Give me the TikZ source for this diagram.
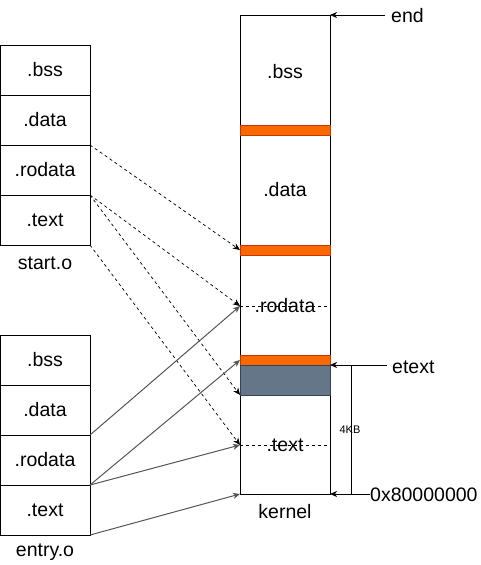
\documentclass[tikz,border=0pt]{standalone}
\usepackage{fontspec}
\setmainfont{Liberation Sans}
\usetikzlibrary{arrows.meta}
\definecolor{orng}{HTML}{FA6800}
\definecolor{orngd}{HTML}{C73500}
\definecolor{slate}{HTML}{647687}
\definecolor{slated}{HTML}{314354}
\definecolor{arrgray}{HTML}{555555}
\begin{document}
\begin{tikzpicture}[x=1pt,y=-1pt,
  font=\fontsize{19.5}{22}\selectfont,
  sec/.style={draw=black,line width=1pt,minimum width=90pt,minimum height=50pt,inner sep=0pt,outer sep=0pt},
  bar/.style={draw=#1,line width=0.8pt,minimum width=90pt,inner sep=0pt,outer sep=0pt},
  lbl/.style={inner sep=0pt},
  tip/.style={-{Stealth[length=7pt,width=6pt,inset=2pt]}},
  dlink/.style={tip,dashed,dash pattern=on 3pt off 3pt,line width=0.7pt,black},
  slink/.style={tip,line width=1pt,arrgray},
  ptr/.style={tip,line width=1pt,black}]
\useasboundingbox (0,0) rectangle (481,565);
% kernel
\node[sec,minimum height=479pt] (kern) at (285,254.5) {};
\node[bar=orngd,fill=orng,minimum height=10pt] (bar1) at (285,130) {};
\node[bar=orngd,fill=orng,minimum height=10pt] (bar2) at (285,250) {};
\node[bar=orngd,fill=orng,minimum height=10pt] (bar3) at (285,360) {};
\node[bar=slated,fill=slate,minimum height=30pt] (gblk) at (285,380) {};
\node[lbl] (kbss) at (285,72) {.bss};
\node[lbl] (kdata) at (285,190) {.data};
\coordinate (krodc) at (285,306);
\coordinate (ktextc) at (285,445);
\draw[dashed,dash pattern=on 3pt off 3pt,line width=0.7pt] (kern.west |- krodc) -- (kern.east |- krodc);
\draw[dashed,dash pattern=on 3pt off 3pt,line width=0.7pt] (kern.west |- ktextc) -- (kern.east |- ktextc);
\node[lbl] (krod) at (285,306) {.rodata};
\node[lbl] (ktext) at (285,445) {.text};
\node[lbl] (klbl) at (285,512) {kernel};
% start.o
\node[sec] (sbss) at (45,70) {.bss};
\node[sec] (sdata) at (45,120) {.data};
\node[sec] (srod) at (45,170) {.rodata};
\node[sec] (stext) at (45,220) {.text};
\node[lbl] (slbl) at (45,263) {start.o};
% entry.o
\node[sec] (ebss) at (45,360) {.bss};
\node[sec] (edata) at (45,410) {.data};
\node[sec] (erod) at (45,460) {.rodata};
\node[sec] (etext) at (45,510) {.text};
\node[lbl] (elbl) at (45,552) {entry.o};
% dashed links from start.o
\draw[dlink] (srod.north east) -- (bar2.west);
\draw[dlink] (stext.north east) -- (kern.west |- krodc);
\draw[dlink] (stext.north east) -- (gblk.south west);
\draw[dlink] (stext.south east) -- (kern.west |- ktextc);
% solid links from entry.o
\draw[slink] (edata.south east) -- (kern.west |- krodc);
\draw[slink] (erod.south east) -- (bar3.west);
\draw[slink] (erod.south east) -- (kern.west |- ktextc);
\draw[slink] (etext.south east) -- (kern.south west);
% pointers on the right
\coordinate (endc) at (385,15);
\coordinate (etextc) at (387,365);
\coordinate (basec) at (370,494);
\draw[ptr] (endc) -- (kern.north east);
\draw[ptr] (etextc) -- (bar3.south east);
\draw[ptr] (basec) -- (kern.south east);
\node[lbl,anchor=west] (endl) at (391,16) {end};
\node[lbl,anchor=west] (etextl) at (392,367) {etext};
\node[lbl,anchor=west] (basel) at (370,495) {0x80000000};
% 4KB span
\coordinate (spt) at (351,365);
\coordinate (spb) at (351,494);
\draw[line width=1pt] (spt) -- (spb);
\node[lbl,font=\fontsize{11}{13}\selectfont] (kb) at (350,430) {4KB};
\end{tikzpicture}
\end{document}
